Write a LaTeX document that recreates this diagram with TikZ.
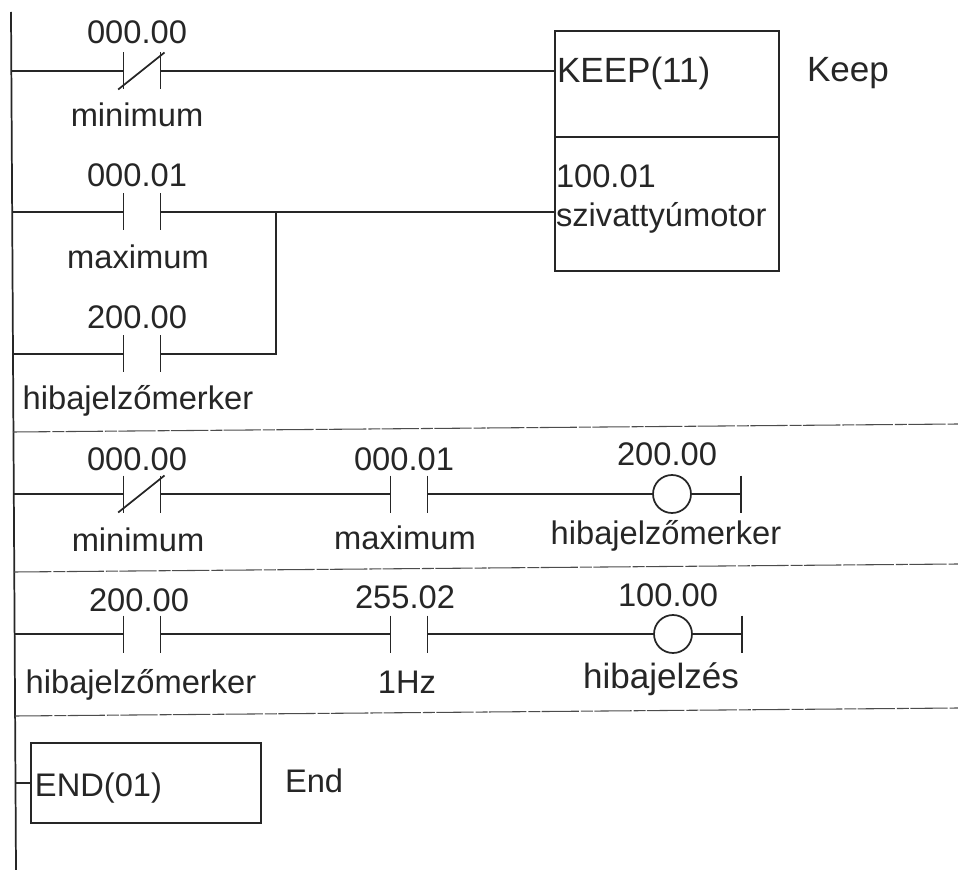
\documentclass[tikz,border=0pt]{standalone}
\usepackage{fontspec}
\setmainfont{Liberation Sans}
\tikzset{
	wire/.style={line width=1.3pt, color=black!85},
	scanline/.style={line width=0.8pt, color=black!70, dash pattern=on 28pt off 1.5pt on 9pt off 1pt},
	contact/.style={minimum width=27.75pt, minimum height=27.75pt, inner sep=0pt, outer sep=0pt},
	coil/.style={circle, draw, wire, minimum size=28.5pt, inner sep=0pt, outer sep=0pt},
	coilend/.style={minimum width=0pt, minimum height=27.75pt, inner sep=0pt, outer sep=0pt},
	lbl/.style={font=\fontsize{24.5}{24.5}\selectfont, text=black!85, inner sep=0pt, outer sep=0pt},
	lblw/.style={lbl, anchor=west},
	lblbig/.style={lblw, font=\fontsize{26.3}{26.3}\selectfont},
	blockbox/.style={draw, wire, inner sep=0pt, outer sep=0pt}
}
\begin{document}
\begin{tikzpicture}[x=0.75pt, y=-0.75pt]
	\useasboundingbox (0,0) rectangle (958,870);
	% power rail
	\coordinate (railtop) at (11,12);
	\coordinate (railbot) at (16,870);
	\draw[wire] (railtop) -- (railbot);
	% rung separators
	\coordinate (sepaL) at (13,432);
	\coordinate (sepaR) at (958,424);
	\coordinate (sepbL) at (14,572);
	\coordinate (sepbR) at (958,564);
	\coordinate (sepcL) at (15,716);
	\coordinate (sepcR) at (958,708);
	\foreach \s in {sepa,sepb,sepc}
		\draw[scanline] (\s L) -- (\s R);
	% contacts
	\node[contact] (minA) at (142,71) {};
	\node[contact] (maxA) at (142,212) {};
	\node[contact] (hibA) at (142,354) {};
	\node[contact] (minB) at (142,494) {};
	\node[contact] (maxB) at (409,494) {};
	\node[contact] (hibC) at (142,634) {};
	\node[contact] (clkC) at (409,634) {};
	\foreach \c in {minA,maxA,hibA,minB,maxB,hibC,clkC}
		\draw[wire] (\c.north west) -- (\c.south west) (\c.north east) -- (\c.south east);
	\foreach \c in {minA,minB}
		\draw[wire] ([xshift=-4pt]\c.south west) -- ([xshift=3pt]\c.north east);
	% blocks
	\node[blockbox, minimum width=168pt, minimum height=180pt] (keep) at (667,151) {};
	\coordinate (keepdiv) at (555,137);
	\draw[wire] (keepdiv) -- (keepdiv -| keep.east);
	\node[blockbox, minimum width=172.5pt, minimum height=60pt] (endb) at (146,783) {};
	% coils
	\node[coil] (coilB) at (672,494) {};
	\node[coilend] (endB) at (741,494) {};
	\node[coil] (coilC) at (673,634) {};
	\node[coilend] (endC) at (742,634) {};
	\foreach \e in {endB,endC}
		\draw[wire] (\e.north) -- (\e.south);
	% wires
	\coordinate (tapA) at (11,71);
	\coordinate (tapB) at (12,212);
	\coordinate (tapC) at (13,354);
	\coordinate (tapD) at (14,494);
	\coordinate (tapE) at (14,634);
	\coordinate (tapF) at (15,783);
	\coordinate (branch) at (276,212);
	\draw[wire] (tapA) -- (minA.west);
	\draw[wire] (minA.east) -- (minA.east -| keep.west);
	\draw[wire] (tapB) -- (maxA.west);
	\draw[wire] (maxA.east) -- (maxA.east -| keep.west);
	\draw[wire] (tapC) -- (hibA.west);
	\draw[wire] (hibA.east) -| (branch);
	\draw[wire] (tapD) -- (minB.west);
	\draw[wire] (minB.east) -- (maxB.west);
	\draw[wire] (maxB.east) -- (coilB.west);
	\draw[wire] (coilB.east) -- (endB.center);
	\draw[wire] (tapE) -- (hibC.west);
	\draw[wire] (hibC.east) -- (clkC.west);
	\draw[wire] (clkC.east) -- (coilC.west);
	\draw[wire] (coilC.east) -- (endC.center);
	\draw[wire] (tapF) -- (endb.west);
	% labels
	\node[lbl] (tminA) at (137,32) {000.00};
	\node[lbl] (bminA) at (137,115) {minimum};
	\node[lbl] (tmaxA) at (137,175) {000.01};
	\node[lbl] (bmaxA) at (138,257) {maximum};
	\node[lbl] (thibA) at (137,317) {200.00};
	\node[lbl] (bhibA) at (138,401) {hibajelzőmerker};
	\node[lbl] (tminB) at (137,459) {000.00};
	\node[lbl] (bminB) at (138,540) {minimum};
	\node[lbl] (tmaxB) at (404,459) {000.01};
	\node[lbl] (bmaxB) at (405,538) {maximum};
	\node[lbl] (tcoilB) at (667,454) {200.00};
	\node[lbl] (bcoilB) at (666,536) {hibajelzőmerker};
	\node[lbl] (thibC) at (139,600) {200.00};
	\node[lbl] (bhibC) at (141,685) {hibajelzőmerker};
	\node[lbl] (tclkC) at (405,597) {255.02};
	\node[lbl] (bclkC) at (407,682) {1Hz};
	\node[lbl] (tcoilC) at (668,595) {100.00};
	\node[lbl, font=\fontsize{26.3}{26.3}\selectfont] (bcoilC) at (661,679) {hibajelzés};
	\node[lblbig] (kname) at (557,73) {KEEP(11)};
	\node[lblbig] (kword) at (807,73) {Keep};
	\node[lblw] (kbit) at (556,176) {100.01};
	\node[lblw] (kmot) at (556,218) {szivattyúmotor};
	\node[lblw] (ename) at (35,788) {END(01)};
	\node[lblw] (eword) at (285,781) {End};
\end{tikzpicture}
\end{document}
